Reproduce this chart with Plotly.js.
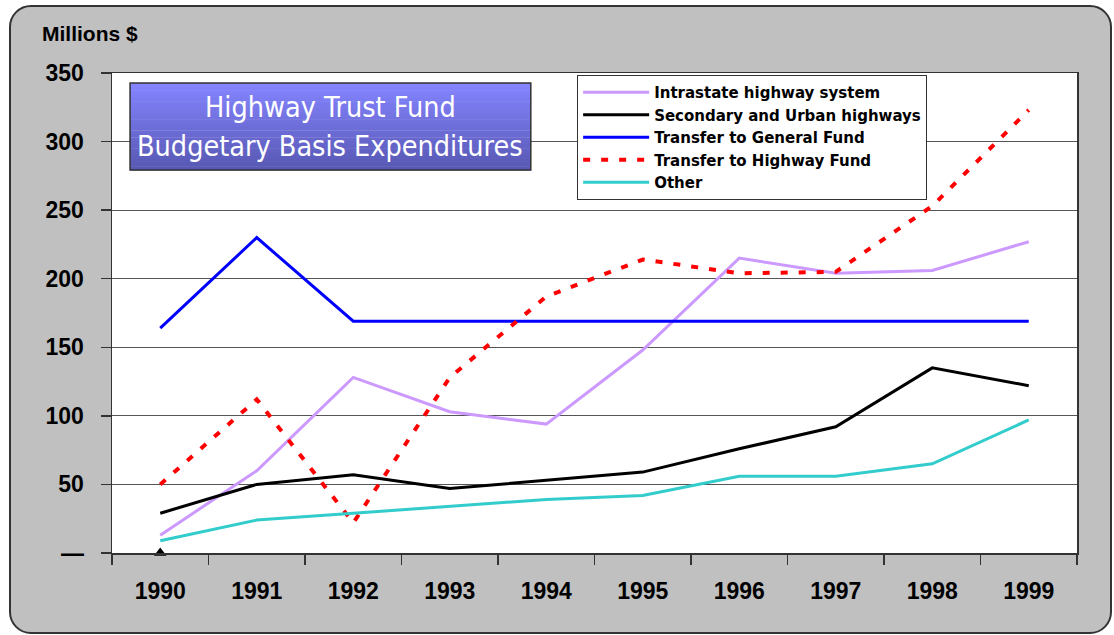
<!DOCTYPE html>
<html>
<head>
<meta charset="utf-8">
<script src="https://cdn.plot.ly/plotly-3.0.1.min.js"></script>
<style>
  html, body { margin:0; padding:0; background:#ffffff; width:1114px; height:635px; overflow:hidden; }
  #frame { position:absolute; left:9px; top:5px; width:1099px; height:625px; background:#c0c0c0; border:2px solid #333; border-radius:22px; }
  #chart { position:absolute; left:0; top:0; width:1114px; height:635px; }
</style>
</head>
<body>
<div id="frame"></div>
<div id="chart"></div>
<script>
const years = ['1990','1991','1992','1993','1994','1995','1996','1997','1998','1999'];
const intrastate = [13, 60, 128, 103, 94, 148, 215, 204, 206, 227];
const secondaryUrban = [29, 50, 57, 47, 53, 59, 76, 92, 135, 122];
const transferGeneral = [164, 230, 169, 169, 169, 169, 169, 169, 169, 169];
const transferHighway = [50, 112, 22, 128, 187, 214, 204, 205, 253, 323];
const other = [9, 24, 29, 34, 39, 42, 56, 56, 65, 97];
const seriesNames = ['Intrastate highway system','Secondary and Urban highways','Transfer to General Fund','Transfer to Highway Fund','Other'];
const yTickVals = [0, 50, 100, 150, 200, 250, 300, 350];
const yTickText = ['—', '50', '100', '150', '200', '250', '300', '350'];
const markerX = ['1990'];
const markerY = [0];

const FONT = 'Liberation Sans, Arial, sans-serif';

const traces = [
  {x: years, y: intrastate, name: seriesNames[0], mode: 'lines', line: {color: '#cc99ff', width: 3}},
  {x: years, y: secondaryUrban, name: seriesNames[1], mode: 'lines', line: {color: '#000000', width: 3}},
  {x: years, y: transferGeneral, name: seriesNames[2], mode: 'lines', line: {color: '#0000ff', width: 3}},
  {x: years, y: transferHighway, name: seriesNames[3], mode: 'lines', line: {color: '#ff0000', width: 4, dash: '7px,11px'}},
  {x: years, y: other, name: seriesNames[4], mode: 'lines', line: {color: '#33cccc', width: 3}},
  {x: markerX, y: markerY, mode: 'markers', showlegend: false, hoverinfo: 'skip', cliponaxis: false,
   marker: {symbol: 'triangle-up', size: 11, color: '#000000'}}
];

// gradient title box as stacked stripes
const shapes = [];
const bx0 = 0.0187, bx1 = 0.434, byTop = 0.979, byBot = 0.798;
const n = 24;
for (let i = 0; i < n; i++) {
  const t = i / (n - 1);
  const r = Math.round(0x84 + (0x58 - 0x84) * t);
  const g = Math.round(0x84 + (0x58 - 0x84) * t);
  const b = Math.round(0xff + (0xb4 - 0xff) * t);
  shapes.push({type: 'rect', xref: 'paper', yref: 'paper', layer: 'above',
    x0: bx0, x1: bx1,
    y0: byTop - (byTop - byBot) * (i + 1) / n - 0.001, y1: byTop - (byTop - byBot) * i / n,
    fillcolor: `rgb(${r},${g},${b})`, line: {width: 0}});
}
shapes.push({type: 'rect', xref: 'paper', yref: 'paper', layer: 'above',
  x0: bx0, x1: bx1, y0: byBot, y1: byTop, fillcolor: 'rgba(0,0,0,0)', line: {color: '#333', width: 1.5}});

const layout = {
  width: 1114, height: 635,
  paper_bgcolor: 'rgba(0,0,0,0)',
  plot_bgcolor: '#ffffff',
  margin: {l: 112, r: 37, t: 73, b: 82},
  font: {family: FONT, color: '#000'},
  showlegend: true,
  legend: {
    x: 0.482, y: 0.996, xanchor: 'left', yanchor: 'top',
    bgcolor: '#ffffff', bordercolor: '#333', borderwidth: 1,
    font: {family: 'DejaVu Sans, Verdana, sans-serif', size: 15, weight: 'bold', color: '#000'},
    tracegroupgap: 0, itemwidth: 66
  },
  xaxis: {
    type: 'category', range: [-0.5, 9.5], fixedrange: true,
    tickson: 'boundaries', ticks: 'outside', ticklen: 10, tickcolor: '#333', tickwidth: 1.5,
    showline: true, linecolor: '#333', linewidth: 1.5, mirror: true,
    showgrid: false, zeroline: false,
    tickfont: {family: FONT, size: 23, weight: 'bold', color: '#000'},
    ticklabelstandoff: 17
  },
  yaxis: {
    range: [0, 350], fixedrange: true,
    tickvals: yTickVals, ticktext: yTickText,
    ticks: 'outside', ticklen: 10, tickcolor: '#333', tickwidth: 1.5,
    showline: true, linecolor: '#333', linewidth: 1.5, mirror: true,
    showgrid: true, gridcolor: '#555', gridwidth: 1, zeroline: false,
    tickfont: {family: FONT, size: 23, weight: 'bold', color: '#000'},
    ticklabelstandoff: 12
  },
  shapes: shapes,
  annotations: [
    {text: 'Millions $', xref: 'paper', yref: 'paper', x: -0.0746, y: 1.083, xanchor: 'left', yanchor: 'middle',
     showarrow: false, font: {family: FONT, size: 21, weight: 'bold', color: '#000'}},
    {text: 'Highway Trust Fund', xref: 'paper', yref: 'paper', x: (bx0 + bx1) / 2, y: 0.929, xanchor: 'center', yanchor: 'middle',
     showarrow: false, font: {family: 'DejaVu Sans Condensed, Verdana, sans-serif', size: 28.5, color: '#ffffff'}},
    {text: 'Budgetary Basis Expenditures', xref: 'paper', yref: 'paper', x: (bx0 + bx1) / 2, y: 0.846, xanchor: 'center', yanchor: 'middle',
     showarrow: false, font: {family: 'DejaVu Sans Condensed, Verdana, sans-serif', size: 28.5, color: '#ffffff'}}
  ]
};

Plotly.newPlot('chart', traces, layout, {displayModeBar: false, staticPlot: true});
</script>
</body>
</html>
